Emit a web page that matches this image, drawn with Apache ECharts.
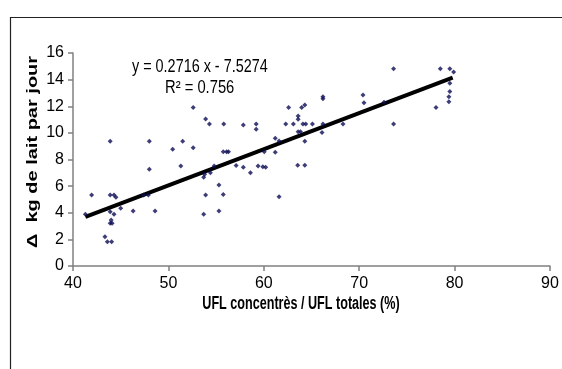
<!DOCTYPE html>
<html><head><meta charset="utf-8">
<script src="https://cdn.jsdelivr.net/npm/echarts@6/dist/echarts.min.js"></script>
<style>html,body{margin:0;padding:0;background:#fff}#c{width:562px;height:369px}</style>
</head><body><div id="c"></div>
<script>
const xValues = [41.3,41.95,43.35,43.6,44.05,43.9,44.1,44.0,43.9,44.3,45.0,43.9,44.3,44.5,43.9,46.3,47.4,47.9,48.6,48.0,48.0,50.45,51.3,51.5,52.6,52.6,53.7,53.9,53.7,53.8,54.4,54.8,53.9,54.3,55.3,55.3,55.75,55.75,56.1,56.3,55.8,57.1,57.85,57.85,58.6,59.4,59.9,60.2,59.2,59.2,60.05,61.2,61.2,61.6,61.6,62.3,62.6,63.1,63.55,64.3,63.6,63.85,64.3,63.6,63.6,63.97,64.3,64.1,64.4,65.1,66.1,66.2,66.2,66.2,68.3,70.4,70.5,72.6,73.6,73.6,78.05,78.5,79.5,79.9,79.5,79.5,79.4,79.4];
const yValues = [3.88,5.33,2.2,1.83,1.83,3.21,3.21,3.46,4.08,3.88,4.33,5.33,5.33,5.16,9.37,4.13,5.33,5.33,4.13,7.26,9.37,8.77,7.51,9.37,8.89,11.9,3.88,5.33,6.66,6.9,7.01,7.51,11.04,10.67,4.13,6.09,5.38,8.59,8.59,8.59,10.67,7.54,7.41,10.59,7.01,7.51,7.46,7.41,10.67,10.27,8.59,8.54,9.59,9.39,5.21,10.67,11.9,10.67,7.56,7.56,10.09,10.09,9.37,11.02,11.27,11.9,12.1,10.67,10.67,10.67,10.02,10.67,12.57,12.72,10.67,12.85,12.27,12.3,14.82,10.67,11.9,14.82,14.82,14.57,13.73,13.1,12.72,12.34];
const trendX = [41.3, 79.8];
const trendY = [3.69, 14.15];
const xTicks = [40, 90, 10];
const yTicks = [0, 16, 2];
const equation = 'y = 0.2716 x - 7.5274';
const rSquared = 'R² = 0.756';
const xTitle = 'UFL concentrès / UFL totales (%)';
const yTitle = 'Δ  kg de lait par jour';

const points = xValues.map((x, i) => [x, yValues[i]]);
const trend = trendX.map((x, i) => [x, trendY[i]]);
const narrow = "'Liberation Sans Narrow', 'Liberation Sans', Arial, sans-serif";
const chart = echarts.init(document.getElementById('c'), null, {renderer: 'canvas'});
const axisCommon = {
  axisLine: {show: true, lineStyle: {color: '#808080', width: 1.5}},
  axisTick: {show: true, inside: false, length: 5, lineStyle: {color: '#808080', width: 1.5}},
  splitLine: {show: false},
  axisLabel: {color: '#000', fontSize: 16, fontFamily: narrow}
};
chart.setOption({
  animation: false,
  backgroundColor: '#fff',
  grid: {left: 73, right: 12, top: 53, bottom: 103, containLabel: false},
  xAxis: Object.assign({}, axisCommon, {
    type: 'value', min: xTicks[0], max: xTicks[1], interval: xTicks[2],
    axisLabel: Object.assign({}, axisCommon.axisLabel, {margin: 10})
  }),
  yAxis: Object.assign({}, axisCommon, {
    type: 'value', min: yTicks[0], max: yTicks[1], interval: yTicks[2],
    axisLabel: Object.assign({}, axisCommon.axisLabel, {margin: 9})
  }),
  graphic: [
    {type: 'rect', left: 8, top: 15, shape: {width: 700, height: 500}, style: {fill: 'none', stroke: '#222', lineWidth: 1.2}, silent: true},
    {type: 'text', x: 132, y: 67, scaleX: 0.8, style: {text: equation, font: "18px 'Liberation Sans', Arial", fill: '#000', align: 'left', verticalAlign: 'middle'}},
    {type: 'text', x: 165, y: 88, scaleX: 0.82, style: {text: rSquared, font: "18px 'Liberation Sans', Arial", fill: '#000', align: 'left', verticalAlign: 'middle'}},
    {type: 'text', x: 301, y: 304, scaleX: 0.7, style: {text: xTitle, font: "bold 18px 'Liberation Sans', Arial", fill: '#000', align: 'center', verticalAlign: 'middle'}},
    {type: 'text', x: 33, y: 152, rotation: Math.PI / 2, scaleY: 0.7, style: {text: yTitle, font: "bold 20px 'Liberation Sans', Arial", fill: '#000', align: 'center', verticalAlign: 'middle'}}
  ],
  series: [
    {type: 'line', data: trend, symbol: 'none', lineStyle: {color: '#000', width: 4}, z: 2},
    {type: 'scatter', data: points, symbol: 'diamond', symbolSize: 5, itemStyle: {color: '#0d0d55'}, z: 3}
  ]
});
</script></body></html>
